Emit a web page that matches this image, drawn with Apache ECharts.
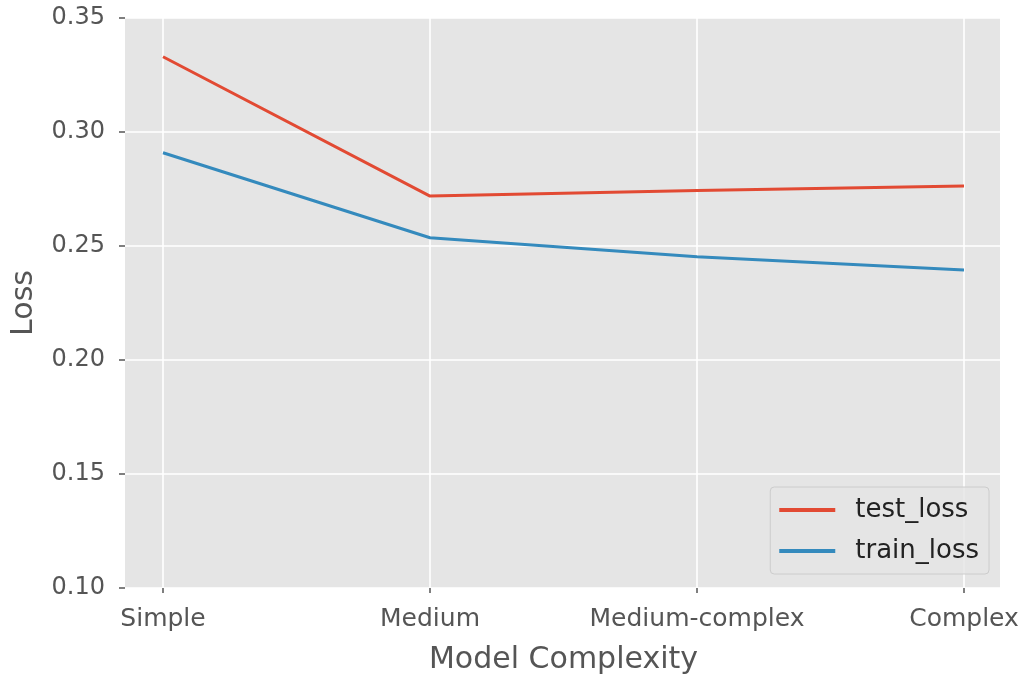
<!DOCTYPE html>
<html>
<head>
<meta charset="utf-8">
<title>Loss vs Model Complexity</title>
<script src="https://cdn.jsdelivr.net/npm/echarts@6/dist/echarts.min.js"></script>
<style>
  html, body { margin: 0; padding: 0; background: #fff; }
  #chart { width: 1024px; height: 676px; }
</style>
</head>
<body>
<div id="chart"></div>
<script>
// values
const categories = ['Simple', 'Medium', 'Medium-complex', 'Complex'];
const testLoss = [0.3330, 0.2719, 0.2743, 0.2763];
const trainLoss = [0.2909, 0.2536, 0.2453, 0.2395];
const yMin = 0.10;
const yMax = 0.35;
const yStep = 0.05;

const font = 'DejaVu Sans';
const textColor = '#555555';
const gridColor = '#ffffff';
const panelColor = '#e5e5e5';

const chart = echarts.init(document.getElementById('chart'));

// grid 0 = full grey panel (with matplotlib-style 5% margins), grid 1 = data area between first/last category
const option = {
    backgroundColor: '#ffffff',
    animation: false,
    textStyle: { fontFamily: font },
    grid: [
        { left: 125, right: 24, top: 18, bottom: 88, show: true, backgroundColor: panelColor, borderWidth: 0, outerBoundsMode: 'none' },
        { left: 163, right: 60, top: 18, bottom: 88, outerBoundsMode: 'none' }
    ],
    legend: {
        data: ['test_loss', 'train_loss'],
        orient: 'vertical',
        right: 35,
        bottom: 102,
        icon: 'rect',
        itemWidth: 56,
        itemHeight: 4,
        itemGap: 15,
        padding: [10, 10, 10, 9],
        backgroundColor: 'rgba(229,229,229,0.8)',
        borderColor: '#cccccc',
        borderWidth: 1,
        borderRadius: 4,
        textStyle: { fontFamily: font, fontSize: 26, color: '#222222', padding: [0, 0, 0, 15] }
    },
    xAxis: [
        { gridIndex: 0, type: 'value', min: 0, max: 1, show: false },
        {
            gridIndex: 1,
            type: 'category',
            data: categories,
            boundaryGap: false,
            name: 'Model Complexity',
            nameLocation: 'middle',
            nameGap: 57,
            nameTextStyle: { fontFamily: font, fontSize: 30, color: textColor },
            axisLine: { show: false },
            axisTick: { show: true, interval: 0, inside: false, length: 5, lineStyle: { color: textColor, width: 1.5 } },
            axisLabel: { interval: 0, fontFamily: font, fontSize: 25, color: textColor, margin: 19, hideOverlap: false },
            splitLine: { show: true, interval: 0, lineStyle: { color: gridColor, width: 1.6 } }
        }
    ],
    yAxis: [
        {
            gridIndex: 0,
            type: 'value',
            min: yMin,
            max: yMax,
            interval: yStep,
            name: 'Loss',
            nameLocation: 'middle',
            nameGap: 86,
            nameTextStyle: { fontFamily: font, fontSize: 30, color: textColor },
            axisLine: { show: false },
            axisTick: { show: true, inside: false, length: 6, lineStyle: { color: textColor, width: 1.5 } },
            axisLabel: { fontFamily: font, fontSize: 24, color: textColor, margin: 20, formatter: v => v.toFixed(2) },
            splitLine: { show: true, lineStyle: { color: gridColor, width: 1.6 } }
        },
        { gridIndex: 1, type: 'value', min: yMin, max: yMax, show: false }
    ],
    series: [
        {
            name: 'test_loss',
            type: 'line',
            xAxisIndex: 1,
            yAxisIndex: 1,
            data: testLoss,
            symbol: 'none',
            color: '#E24A33',
            lineStyle: { width: 3, color: '#E24A33' },
            z: 3
        },
        {
            name: 'train_loss',
            type: 'line',
            xAxisIndex: 1,
            yAxisIndex: 1,
            data: trainLoss,
            symbol: 'none',
            color: '#348ABD',
            lineStyle: { width: 3, color: '#348ABD' },
            z: 3
        }
    ]
};

chart.setOption(option);
</script>
</body>
</html>
